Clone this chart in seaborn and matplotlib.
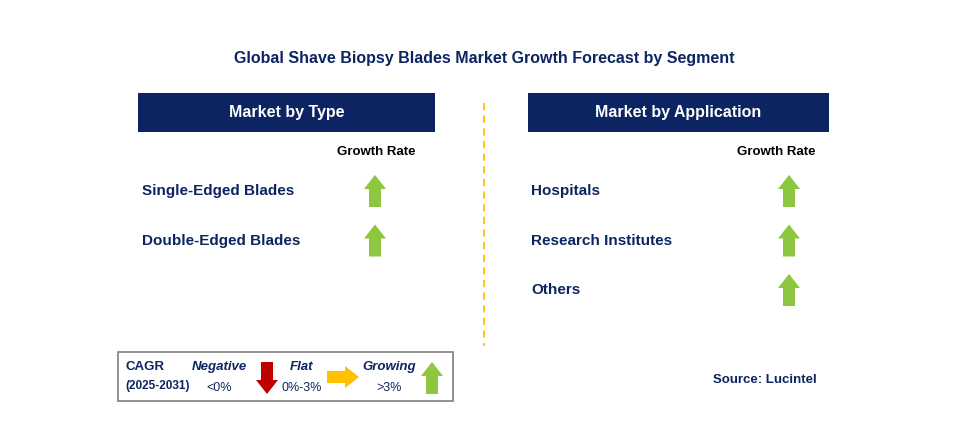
import matplotlib
matplotlib.use('Agg')
import matplotlib.pyplot as plt
import seaborn as sns
from matplotlib.patches import Rectangle, Polygon

sns.set_style('white')
plt.rcParams['font.family'] = 'Liberation Sans'

# Data
title = 'Global Shave Biopsy Blades Market Growth Forecast by Segment'
type_segments = ['Single-Edged Blades', 'Double-Edged Blades']
type_growth = ['Growing', 'Growing']
app_segments = ['Hospitals', 'Research Institutes', 'Others']
app_growth = ['Growing', 'Growing', 'Growing']
legend_labels = ['Negative', 'Flat', 'Growing']
legend_ranges = ['<0%', '0%-3%', '>3%']

NAVY = '#0c2461'
GREEN = '#8dc63f'
RED = '#c00000'
ORANGE = '#ffc000'

fig = plt.figure(figsize=(9.57, 4.28), dpi=100)
ax = fig.add_axes([0, 0, 1, 1])
ax.set_xlim(0, 957)
ax.set_ylim(428, 0)
ax.axis('off')


def arrow(kind, cx, cy, size=32):
    h = size / 2
    hw, sw, hl = 11, 6, 14
    if kind == 'Growing':
        pts = [(cx, cy - h), (cx + hw, cy - h + hl), (cx + sw, cy - h + hl), (cx + sw, cy + h),
               (cx - sw, cy + h), (cx - sw, cy - h + hl), (cx - hw, cy - h + hl)]
        col = GREEN
    elif kind == 'Negative':
        pts = [(cx, cy + h), (cx + hw, cy + h - hl), (cx + sw, cy + h - hl), (cx + sw, cy - h),
               (cx - sw, cy - h), (cx - sw, cy + h - hl), (cx - hw, cy + h - hl)]
        col = RED
    else:
        pts = [(cx + h, cy), (cx + h - hl, cy - hw), (cx + h - hl, cy - sw), (cx - h, cy - sw),
               (cx - h, cy + sw), (cx + h - hl, cy + sw), (cx + h - hl, cy + hw)]
        col = ORANGE
    ax.add_patch(Polygon(pts, closed=True, facecolor=col, edgecolor='none'))


ax.text(484, 58, title, ha='center', va='center', fontsize=11.5, fontweight='bold', color=NAVY)

# Panels
panels = [
    (138, 435, 'Market by Type', type_segments, type_growth, 142, 376, 375),
    (528, 829, 'Market by Application', app_segments, app_growth, 531, 776, 789),
]
for x0, x1, head, segs, growth, tx, gx, axx in panels:
    ax.add_patch(Rectangle((x0, 93), x1 - x0, 39, facecolor=NAVY, edgecolor='none'))
    ax.text((x0 + x1) / 2, 112.5, head, ha='center', va='center', fontsize=11.5,
            fontweight='bold', color='white')
    ax.text(gx, 152, 'Growth Rate', ha='center', va='center', fontsize=9.5,
            fontweight='bold', color='black')
    for i, (s, g) in enumerate(zip(segs, growth)):
        y = 191 + i * 49.5
        ax.text(tx, y, s, ha='left', va='center', fontsize=11, fontweight='bold', color=NAVY)
        arrow(g, axx, y, 32)

ax.plot([484, 484], [103, 346], color=ORANGE, lw=1.3, ls=(0, (4, 3)))

# Legend
ax.add_patch(Rectangle((118, 352), 335, 49, facecolor='white', edgecolor='#7f7f7f', lw=1.2))
ax.text(125, 367, 'CAGR', ha='left', va='center', fontsize=9.5, fontweight='bold', color=NAVY)
ax.text(125, 386, '(2025-2031)', ha='left', va='center', fontsize=8.5, fontweight='bold', color=NAVY)
lx = [219, 302, 389]
arrow_x = [267, 343, 432]
for lab, rng, x, axx in zip(legend_labels, legend_ranges, lx, arrow_x):
    ax.text(x, 367, lab, ha='center', va='center', fontsize=9.5, fontweight='bold',
            style='italic', color=NAVY)
    ax.text(x, 388, rng, ha='center', va='center', fontsize=9, color=NAVY)
    arrow(lab, axx, 378 if lab != 'Flat' else 377, 32)

ax.text(765, 380, 'Source: Lucintel', ha='center', va='center', fontsize=9.5,
        fontweight='bold', color=NAVY)

fig.savefig('out.png', dpi=100)
